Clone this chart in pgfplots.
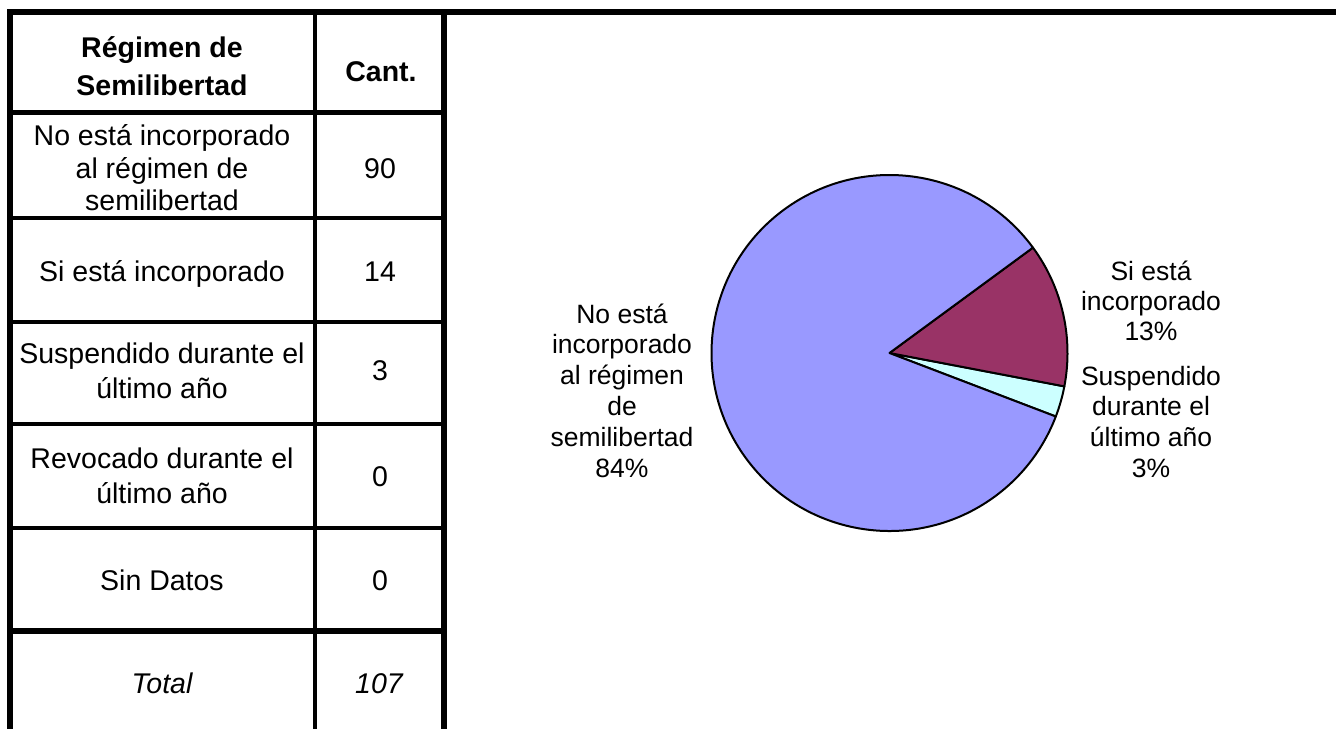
\documentclass[border=0pt]{standalone}
\usepackage{pgfplots}
\pgfplotsset{compat=1.18}
\usepackage{pgfplotstable}
\usepackage{fontspec}
\setmainfont{Liberation Sans}

\definecolor{sblue}{HTML}{9999FF}
\definecolor{smaroon}{HTML}{993366}
\definecolor{scyan}{HTML}{CCFFFF}

\newcommand\tbl{\fontsize{14.25}{17}\selectfont}
\newcommand\pielbl{\fontsize{13.25}{15}\selectfont}

\pgfplotstableread{
cat value
NoIncorporado 90
SiIncorporado 14
Suspendido 3
Revocado 0
SinDatos 0
}\datos

\begin{document}
\begin{tikzpicture}
% values from the table
\pgfplotstablegetelem{0}{value}\of\datos \let\vA\pgfplotsretval
\pgfplotstablegetelem{1}{value}\of\datos \let\vB\pgfplotsretval
\pgfplotstablegetelem{2}{value}\of\datos \let\vC\pgfplotsretval
\pgfplotstablegetelem{3}{value}\of\datos \let\vD\pgfplotsretval
\pgfplotstablegetelem{4}{value}\of\datos \let\vE\pgfplotsretval
\pgfmathtruncatemacro\total{\vA+\vB+\vC+\vD+\vE}
\pgfmathtruncatemacro\pA{round(100*\vA/\total)}
\pgfmathtruncatemacro\pB{round(100*\vB/\total)}
\pgfmathtruncatemacro\pC{round(100*\vC/\total)}
% slice angles (counter-clockwise, starting at the cyan slice)
\pgfmathsetmacro\aC{-20.9}
\pgfmathsetmacro\aB{\aC+360*\vC/\total}
\pgfmathsetmacro\aA{\aB+360*\vB/\total}
\pgfmathsetmacro\aE{\aC+360}

\begin{axis}[
    scale only axis,
    width=668pt, height=364.5pt,
    xmin=0, xmax=1336, ymin=0, ymax=729,
    y dir=reverse,
    hide axis,
    clip=false,
]
% table grid
\draw[line width=3pt] (axis cs:7,12) -- (axis cs:1336,12);
\draw[line width=3pt] (axis cs:10,9) -- (axis cs:10,729);
\draw[line width=3pt] (axis cs:443.5,9) -- (axis cs:443.5,729);
\draw[line width=1.6pt] (axis cs:315,12) -- (axis cs:315,729);
\draw[line width=2.5pt] (axis cs:10,112.5) -- (axis cs:443.5,112.5);
\draw[line width=2pt] (axis cs:10,217.5) -- (axis cs:443.5,217.5);
\draw[line width=2pt] (axis cs:10,322) -- (axis cs:443.5,322);
\draw[line width=2pt] (axis cs:10,423.5) -- (axis cs:443.5,423.5);
\draw[line width=2pt] (axis cs:10,527.5) -- (axis cs:443.5,527.5);
\draw[line width=3pt] (axis cs:10,631) -- (axis cs:443.5,631);

% table text
\begin{scope}[every node/.style={anchor=base, inner sep=0pt, font=\tbl}]
\node[font=\tbl\bfseries] at (axis cs:162,57) {Régimen de};
\node[font=\tbl\bfseries] at (axis cs:162,95) {Semilibertad};
\node[font=\tbl\bfseries] at (axis cs:381,81.5) {Cant.};
\node at (axis cs:162,145) {No está incorporado};
\node at (axis cs:162,178) {al régimen de};
\node at (axis cs:162,210) {semilibertad};
\node at (axis cs:380,178) {\vA};
\node at (axis cs:162,281.5) {Si está incorporado};
\node at (axis cs:380,281.5) {\vB};
\node at (axis cs:162,363) {Suspendido durante el};
\node at (axis cs:162,398) {último año};
\node at (axis cs:380,380) {\vC};
\node at (axis cs:162,468) {Revocado durante el};
\node at (axis cs:162,503) {último año};
\node at (axis cs:380,486.5) {\vD};
\node at (axis cs:162,590) {Sin Datos};
\node at (axis cs:380,590) {\vE};
\node[font=\tbl\itshape] at (axis cs:162,693) {Total};
\node[font=\tbl\itshape] at (axis cs:379,693) {\total};
\end{scope}

% pie
\filldraw[fill=scyan, draw=black, line width=1pt, line join=round]
  (axis cs:889.5,353) -- ++(\aC:89pt) arc[start angle=\aC, end angle=\aB, radius=89pt] -- cycle;
\filldraw[fill=smaroon, draw=black, line width=1pt, line join=round]
  (axis cs:889.5,353) -- ++(\aB:89pt) arc[start angle=\aB, end angle=\aA, radius=89pt] -- cycle;
\filldraw[fill=sblue, draw=black, line width=1pt, line join=round]
  (axis cs:889.5,353) -- ++(\aA:89pt) arc[start angle=\aA, end angle=\aE, radius=89pt] -- cycle;

% pie labels
\begin{scope}[every node/.style={anchor=base, inner sep=0pt, font=\pielbl}]
\node at (axis cs:622,323) {No está};
\node at (axis cs:622,353) {incorporado};
\node at (axis cs:622,384) {al régimen};
\node at (axis cs:622,415) {de};
\node at (axis cs:622,446) {semilibertad};
\node at (axis cs:622,477) {\pA\%};
\node at (axis cs:1151,280) {Si está};
\node at (axis cs:1151,310) {incorporado};
\node at (axis cs:1151,340) {\pB\%};
\node at (axis cs:1151,385) {Suspendido};
\node at (axis cs:1151,415) {durante el};
\node at (axis cs:1151,446) {último año};
\node at (axis cs:1151,477) {\pC\%};
\end{scope}
\end{axis}
\pgfresetboundingbox
\path (current axis.south west) rectangle (current axis.north east);
\end{tikzpicture}
\end{document}
